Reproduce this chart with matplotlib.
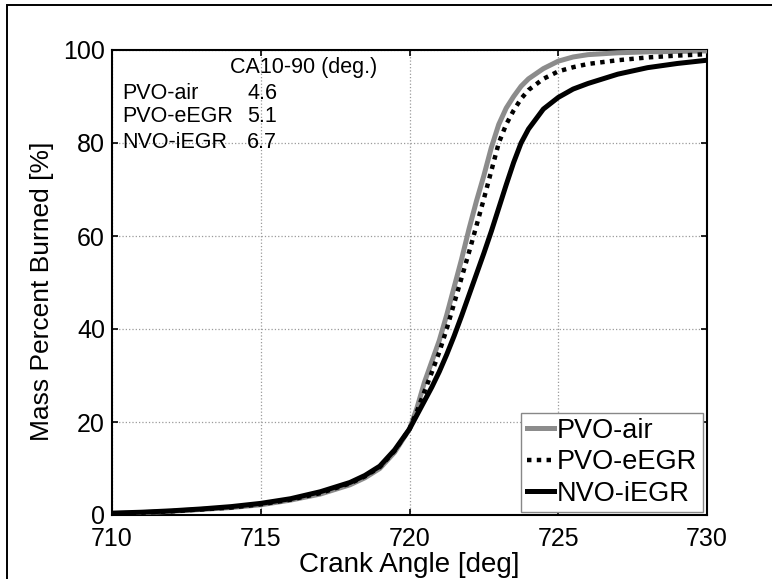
import matplotlib
matplotlib.use("Agg")
import matplotlib.pyplot as plt
from matplotlib.patches import Rectangle

plt.rcParams['font.family'] = ['Liberation Sans', 'DejaVu Sans']

crank = [710, 711, 712, 713, 714, 715, 716, 717, 718, 718.5, 719, 719.5, 720,
         720.25, 720.5, 720.75, 721, 721.25, 721.5, 721.75, 722, 722.25, 722.5,
         722.75, 723, 723.25, 723.5, 723.75, 724, 724.5, 725, 725.5, 726, 727,
         728, 729, 730]
pvo_air = [0.3, 0.5, 0.8, 1.2, 1.6, 2.2, 3.2, 4.5, 6.5, 8.0, 10.0, 13.5, 18.5,
           23.0, 28.5, 33.0, 37.5, 43.0, 49.0, 55.0, 61.5, 67.5, 73.0,
           79.0, 84.0, 87.5, 90.0, 92.2, 93.8, 96.0, 97.6, 98.5, 99.0, 99.4,
           99.6, 99.7, 99.8]
pvo_eegr = [0.3, 0.5, 0.8, 1.2, 1.6, 2.3, 3.3, 4.7, 6.8, 8.3, 10.3, 13.8, 18.5,
            22.3, 26.5, 30.7, 35.0, 40.0, 45.5, 51.0, 56.5, 62.2, 68.0,
            74.0, 80.0, 84.0, 87.0, 89.5, 91.4, 93.8, 95.4, 96.3, 97.0, 97.8,
            98.4, 98.8, 99.1]
nvo_iegr = [0.4, 0.6, 0.9, 1.3, 1.8, 2.5, 3.5, 5.0, 7.0, 8.5, 10.5, 14.0, 18.5,
            21.5, 24.5, 27.5, 30.8, 34.5, 38.5, 42.8, 47.3, 51.8, 56.3,
            61.0, 66.0, 71.0, 75.8, 80.0, 83.0, 87.3, 89.8, 91.6, 92.8, 94.8,
            96.2, 97.1, 97.8]

series_names = ['PVO-air', 'PVO-eEGR', 'NVO-iEGR']
ca1090 = ['4.6', '5.1', '6.7']
xticks = [710, 715, 720, 725, 730]
yticks = [0, 20, 40, 60, 80, 100]

fig = plt.figure(figsize=(7.72, 5.79), dpi=100)
ax = fig.add_axes([112/772, 1 - 515/579, 595/772, 465/579])

ax.plot(crank, pvo_air, color='#8c8c8c', lw=3.6, label=series_names[0], zorder=3)
ax.plot(crank, pvo_eegr, color='black', lw=3.2, linestyle=(0, (1, 1.2)),
        label=series_names[1], zorder=4)
ax.plot(crank, nvo_iegr, color='black', lw=3.6, label=series_names[2], zorder=5)

ax.set_xlim(710, 730)
ax.set_ylim(0, 100)
ax.set_xticks(xticks)
ax.set_yticks(yticks)
ax.grid(True, linestyle=':', color='#9a9a9a', lw=0.9)
ax.tick_params(direction='in', length=4.5, width=1.2, top=True, right=True,
               labelsize=18, pad=5)
ax.tick_params(axis='x', pad=8.5)
for lbl in ax.get_yticklabels():
    lbl.set_verticalalignment('center_baseline')
for s in ax.spines.values():
    s.set_linewidth(1.5)

ax.set_xlabel('Crank Angle [deg]', fontsize=20)
ax.xaxis.set_label_coords(0.5, -0.079)
ax.set_ylabel('Mass Percent Burned [%]', fontsize=19)
ax.yaxis.set_label_coords(-0.097, 0.48)

ax.text(713.97, 96.3, 'CA10-90 (deg.)', fontsize=15.5, va='center', ha='left')
ys = [90.75, 85.6, 80.0]
for name, val, yy in zip(series_names, ca1090, ys):
    ax.text(710.34, yy, name, fontsize=15.5, va='center', ha='left', zorder=6)
    ax.text(714.54, yy, val, fontsize=15.5, va='center', ha='left', zorder=6)

leg = ax.legend(loc='lower right', bbox_to_anchor=(0.993, 0.006), borderaxespad=0,
                fontsize=19.5, handlelength=1.0, handletextpad=0.12, labelspacing=0.2,
                borderpad=0.2, fancybox=False, framealpha=1, edgecolor='#888888')
leg.get_frame().set_linewidth(1.0)
leg.set_zorder(10)

fig.patches.append(Rectangle((7/772, -0.1), 1.2, 1.1 - 5/579, transform=fig.transFigure,
                             fill=False, edgecolor='black', lw=1.4))

fig.savefig('out.png', dpi=100)
